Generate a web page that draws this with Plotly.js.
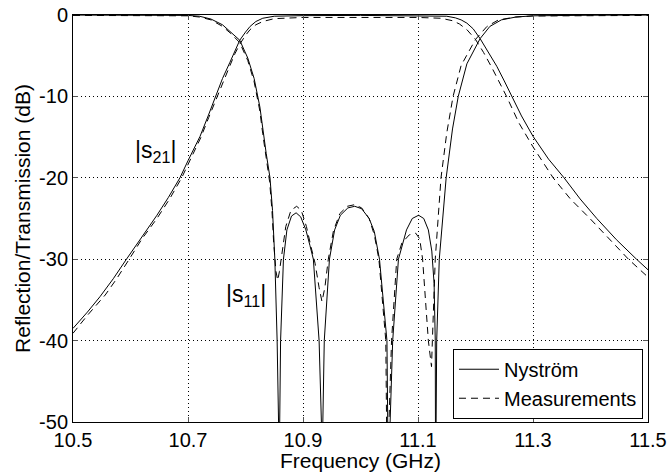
<!DOCTYPE html>
<html>
<head>
<meta charset="utf-8">
<script src="https://cdn.plot.ly/plotly-3.0.1.min.js"></script>
<style>html,body{margin:0;padding:0;background:#fff;}#chart{width:669px;height:472px;}</style>
</head>
<body>
<div id="chart"></div>
<script>
// |S11| Nyström (solid)
var s11NysF = [10.50,10.60,10.70,10.72,10.74,10.76,10.775,10.79,10.804,10.815,10.825,10.830,10.836,10.8426,10.847,10.851,10.855,10.8575,10.858,10.8595,10.861,10.866,10.872,10.880,10.888,10.896,10.905,10.912,10.918,10.928,10.932,10.933,10.9345,10.937,10.946,10.955,10.965,10.978,10.990,11.002,11.015,11.024,11.033,11.046,11.049,11.050,11.0515,11.056,11.066,11.080,11.090,11.101,11.110,11.118,11.124,11.128,11.130,11.1305,11.131,11.1315,11.1325,11.137,11.149,11.160,11.170,11.185,11.208,11.225,11.245,11.27,11.30,11.40,11.50];
var s11NysDB = [-0.01,-0.01,-0.05,-0.15,-0.5,-1.2,-2.1,-3.1,-5.3,-7.8,-11.3,-14.1,-17,-20,-24,-30,-40,-50,-70,-50,-40,-30,-26.4,-24.7,-24.3,-24.8,-26.4,-28.3,-30,-40,-50,-70,-50,-40,-30,-26.4,-24.6,-23.7,-23.5,-23.8,-25.0,-26.6,-30,-40,-50,-70,-50,-40,-30,-26.4,-25.0,-24.6,-25.0,-26.4,-29,-33,-40,-50,-70,-50,-40,-30,-20,-14,-10,-6.0,-2.9,-1.4,-0.6,-0.25,-0.1,-0.03,-0.01];

// |S11| measurements (dashed)
var s11MeasF = [10.50,10.60,10.70,10.72,10.74,10.76,10.775,10.79,10.804,10.815,10.825,10.830,10.836,10.842,10.846,10.849,10.853,10.856,10.859,10.863,10.870,10.879,10.889,10.897,10.906,10.914,10.921,10.928,10.933,10.938,10.944,10.953,10.964,10.977,10.990,11.002,11.015,11.024,11.032,11.044,11.047,11.048,11.0495,11.054,11.063,11.072,11.085,11.096,11.103,11.108,11.118,11.1235,11.125,11.130,11.140,11.150,11.161,11.175,11.200,11.22,11.24,11.27,11.30,11.50];
var s11MeasDB = [-0.05,-0.05,-0.1,-0.25,-0.6,-1.4,-2.3,-3.4,-5.6,-8.2,-11.8,-14.6,-17.5,-20.5,-24,-28,-31.5,-32.6,-31.5,-29.5,-26.0,-24.0,-23.5,-24.0,-26.0,-28.5,-30.5,-33.5,-35.2,-33.5,-30,-26.5,-24.4,-23.5,-23.3,-23.7,-25.0,-27.0,-30,-40,-50,-70,-50,-40,-30,-28.0,-27.0,-26.8,-27.5,-30,-40,-43.2,-40,-30,-20,-14.5,-10,-6.2,-3.0,-1.4,-0.6,-0.25,-0.12,-0.05];

// |S21| Nyström (solid)
var s21NysF = [10.50,10.525,10.547,10.570,10.592,10.620,10.646,10.666,10.686,10.700,10.721,10.735,10.748,10.760,10.773,10.782,10.790,10.800,10.808,10.818,10.830,10.850,10.900,11.000,11.100,11.150,11.165,11.175,11.185,11.196,11.208,11.222,11.237,11.250,11.263,11.280,11.300,11.327,11.354,11.382,11.411,11.445,11.480,11.500];
var s21NysDB = [-38.5,-36.5,-34.6,-32.4,-30.1,-27.3,-24.6,-22.4,-20,-17.9,-14.9,-12.4,-10,-7.8,-5.8,-4.3,-3.1,-2.1,-1.4,-0.8,-0.4,-0.15,-0.08,-0.05,-0.08,-0.15,-0.35,-0.6,-1.0,-1.7,-2.9,-4.5,-6.3,-8.1,-10,-12.4,-14.9,-17.7,-20,-22.6,-25,-27.6,-30,-31.3];

// |S21| measurements (dashed)
var s21MeasF = [10.50,10.525,10.556,10.575,10.596,10.620,10.646,10.668,10.689,10.700,10.722,10.736,10.750,10.762,10.773,10.782,10.790,10.800,10.808,10.818,10.830,10.850,10.900,11.000,11.100,11.140,11.160,11.172,11.185,11.200,11.214,11.228,11.241,11.254,11.275,11.300,11.335,11.365,11.399,11.432,11.466,11.500];
var s21MeasDB = [-39.1,-36.9,-34.4,-32.5,-30.2,-27.5,-25.0,-22.6,-20,-18.3,-15.1,-12.6,-10.1,-8.0,-6.2,-4.7,-3.6,-2.5,-1.8,-1.2,-0.8,-0.45,-0.3,-0.3,-0.3,-0.4,-0.7,-1.1,-1.8,-3.0,-4.6,-6.4,-8.2,-10,-13.2,-16.2,-20,-22.6,-25,-27.5,-30,-32.2];

var xTicks = [10.5,10.7,10.9,11.1,11.3,11.5];
var xTickLabels = ['10.5','10.7','10.9','11.1','11.3','11.5'];
var yTicks = [-50,-40,-30,-20,-10,0];
var yTickLabels = ['-50','-40','-30','-20','-10','0'];

var solid = {color:'#000', width:1};
var dashed = {color:'#000', width:1, dash:'7px,5px'};

var traces = [
  {x:s11NysF, y:s11NysDB, mode:'lines', line:solid, name:'Nyström', legendgroup:'n', showlegend:true},
  {x:s21NysF, y:s21NysDB, mode:'lines', line:solid, name:'Nyström', legendgroup:'n', showlegend:false},
  {x:s11MeasF, y:s11MeasDB, mode:'lines', line:dashed, name:'Measurements', legendgroup:'m', showlegend:true},
  {x:s21MeasF, y:s21MeasDB, mode:'lines', line:dashed, name:'Measurements', legendgroup:'m', showlegend:false}
];

var fontFam = 'Liberation Sans, Arial, Helvetica, sans-serif';
var layout = {
  width:669, height:472,
  margin:{l:73, r:21, t:15, b:50},
  paper_bgcolor:'#fff', plot_bgcolor:'#fff',
  font:{family:fontFam, size:20, color:'#000'},
  showlegend:true,
  legend:{x:0.9913, y:0.008, xanchor:'right', yanchor:'bottom', bgcolor:'#fff', bordercolor:'#000', borderwidth:1, font:{size:20}, tracegroupgap:0, itemwidth:40},
  xaxis:{range:[10.5,11.5], tickvals:xTicks, ticktext:xTickLabels, showgrid:true, gridcolor:'#000', griddash:'1px,3px', gridwidth:1,
    zeroline:false, showline:true, linecolor:'#000', linewidth:1, mirror:'ticks', ticks:'inside', ticklen:5, tickcolor:'#555',
    title:{text:'Frequency (GHz)', font:{size:21}, standoff:3}, tickfont:{size:20}},
  yaxis:{range:[-50,0], tickvals:yTicks, ticktext:yTickLabels, showgrid:true, gridcolor:'#000', griddash:'1px,3px', gridwidth:1,
    zeroline:false, showline:true, linecolor:'#000', linewidth:1, mirror:'ticks', ticks:'inside', ticklen:5, tickcolor:'#555',
    title:{text:'Reflection/Transmission (dB)', font:{size:21}, standoff:2}, tickfont:{size:20}},
  annotations:[
    {x:10.643, y:-16.8, xref:'x', yref:'y', text:'|s<sub>21</sub>|', showarrow:false, font:{size:23}},
    {x:10.801, y:-34.5, xref:'x', yref:'y', text:'|s<sub>11</sub>|', showarrow:false, font:{size:23}}
  ]
};

Plotly.newPlot('chart', traces, layout, {staticPlot:true, displayModeBar:false});
</script>
</body>
</html>
